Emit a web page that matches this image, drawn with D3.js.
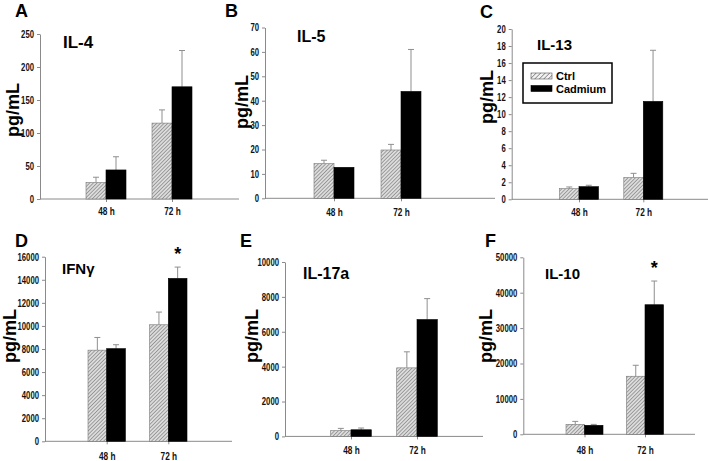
<!DOCTYPE html>
<html><head><meta charset="utf-8">
<script src="https://cdn.jsdelivr.net/npm/d3@7"></script>
<style>body{margin:0;background:#fff} svg{display:block}</style></head>
<body>
<svg id="c" width="708" height="461"></svg>
<script>
// ---------- data ----------
const categories = ["48 h", "72 h"];
const seriesNames = ["Ctrl", "Cadmium"];
const panelLetters = ["A", "B", "C", "D", "E", "F"];
const cytokines = ["IL-4", "IL-5", "IL-13", "IFNγ", "IL-17a", "IL-10"];
const yLabel = "pg/mL";
const ctrlMean = [[25, 115], [14.2, 19.8], [1.25, 2.55], [7900, 10100], [330, 3930], [2820, 16400]];
const ctrlSem  = [[8, 20], [1.4, 2.3], [0.2, 0.5], [1100, 1100], [130, 920], [830, 3100]];
const cadMean  = [[44, 170], [12.7, 43.8], [1.48, 11.5], [8030, 14120], [380, 6700], [2540, 36600]];
const cadSem   = [[20, 55], [0, 17.2], [0.17, 6.0], [340, 980], [100, 1200], [260, 6700]];
const yMax  = [250, 70, 20, 16000, 10000, 50000];
const yStep = [50, 10, 2, 2000, 2000, 10000];
const starred = [[false, false], [false, false], [false, false], [false, true], [false, false], [false, true]];

// ---------- layout ----------
const layout = [
  {ax: 40,    end: 239, y0: 199,   yT: 34,    c: [106, 172],     bw: 20,   letter: [15, 17],  title: [63, 48, 17],  yl: [19, 110], xlb: 215},
  {ax: 265,   end: 495, y0: 198.3, yT: 27.5,  c: [334, 401],     bw: 20,   letter: [225, 17], title: [297, 42, 16], yl: [248, 102], xlb: 216},
  {ax: 511.7, end: 708, y0: 199.3, yT: 29,    c: [579, 643.3],   bw: 19.5, letter: [480, 18], title: [537, 50, 15], yl: [493, 97],  xlb: 216},
  {ax: 45,    end: 232, y0: 441.3, yT: 256.7, c: [106.7, 168.3], bw: 18.7, letter: [15, 247], title: [62, 274, 15], yl: [16, 336],  xlb: 460},
  {ax: 285,   end: 483, y0: 436.4, yT: 262,   c: [351, 417],     bw: 20.3, letter: [240, 247],title: [303, 279, 16],yl: [258, 336], xlb: 454},
  {ax: 523.3, end: 695, y0: 434.3, yT: 257.3, c: [584.5, 645],   bw: 18.5, letter: [485, 247],title: [545, 279, 15],yl: [492, 336], xlb: 454}
];

const svg = d3.select("#c");
const sans = "'Liberation Sans',Arial,sans-serif";
const axisColor = "#8a8a8a";
const digitW = 4.3;

// hatch pattern
const defs = svg.append("defs");
const pat = defs.append("pattern").attr("id", "hatch").attr("patternUnits", "userSpaceOnUse")
  .attr("width", 2.6).attr("height", 2.6).attr("patternTransform", "rotate(45)");
pat.append("rect").attr("width", 2.6).attr("height", 2.6).attr("fill", "#dcdcdc");
pat.append("line").attr("x1", 0).attr("y1", 0).attr("x2", 0).attr("y2", 2.6)
  .attr("stroke", "#6a6a6a").attr("stroke-width", 1.1);
const pat2 = defs.append("pattern").attr("id", "hatchL").attr("patternUnits", "userSpaceOnUse")
  .attr("width", 3.2).attr("height", 3.2).attr("patternTransform", "rotate(45)");
pat2.append("rect").attr("width", 3.2).attr("height", 3.2).attr("fill", "#f2f2f2");
pat2.append("line").attr("x1", 0).attr("y1", 0).attr("x2", 0).attr("y2", 3.2)
  .attr("stroke", "#555").attr("stroke-width", 1.1);

const fills = ["url(#hatch)", "#000"];
const legendFills = ["url(#hatchL)", "#000"];

function narrowText(sel) {
  sel.attr("font-family", sans).attr("font-weight", "bold").attr("font-size", 10.5)
    .attr("fill", "#111").attr("lengthAdjust", "spacingAndGlyphs")
    .attr("textLength", function () { return this.textContent.length * digitW; });
}

layout.forEach((L, i) => {
  const g = svg.append("g");
  const y = d3.scaleLinear().domain([0, yMax[i]]).range([L.y0, L.yT]);
  const x = d3.scalePoint().domain(categories).range(L.c);
  const xs = d3.scaleBand().domain(seriesNames).range([-L.bw, L.bw]);

  // y axis
  const ya = g.append("g").attr("transform", `translate(${L.ax},0)`)
    .call(d3.axisLeft(y).tickValues(d3.range(0, yMax[i] + yStep[i] / 2, yStep[i]))
      .tickFormat(d3.format("d")).tickSize(3).tickPadding(3).tickSizeOuter(0));
  ya.select(".domain").attr("stroke", axisColor);
  ya.selectAll(".tick line").attr("stroke", axisColor);
  ya.selectAll(".tick text").call(narrowText);

  // x axis line
  g.append("line").attr("x1", L.ax).attr("x2", L.end).attr("y1", L.y0).attr("y2", L.y0)
    .attr("stroke", axisColor).attr("stroke-width", 1);
  const xa = g.append("g").attr("transform", `translate(0,${L.y0})`)
    .call(d3.axisBottom(x).tickSize(3).tickPadding(0).tickSizeOuter(0));
  xa.select(".domain").remove();
  xa.selectAll(".tick line").attr("stroke", axisColor);
  xa.selectAll(".tick text").call(narrowText).attr("textLength", 16.5).attr("dy", null)
    .attr("y", L.xlb - L.y0);

  const means = [ctrlMean[i], cadMean[i]];
  const sems = [ctrlSem[i], cadSem[i]];
  seriesNames.forEach((s, si) => {
    categories.forEach((cat, ci) => {
      const v = means[si][ci], e = sems[si][ci];
      const bx = x(cat) + xs(s);
      const cx = bx + xs.bandwidth() / 2;
      if (e > 0) {
        g.append("line").attr("x1", cx).attr("x2", cx).attr("y1", y(v)).attr("y2", y(v + e))
          .attr("stroke", "#8f8f8f").attr("stroke-width", 1);
        g.append("line").attr("x1", cx - 3).attr("x2", cx + 3).attr("y1", y(v + e)).attr("y2", y(v + e))
          .attr("stroke", "#8f8f8f").attr("stroke-width", 1);
      }
      g.append("rect").attr("x", bx).attr("y", y(v)).attr("width", xs.bandwidth())
        .attr("height", y(0) - y(v)).attr("fill", fills[si])
        .attr("stroke", si === 0 ? "#777" : "#000").attr("stroke-width", 0.6);
      if (starred[i][ci] && si === 1) {
        g.append("text").attr("x", cx).attr("y", y(v + e) - 7).attr("text-anchor", "middle")
          .attr("font-family", sans).attr("font-weight", "bold").attr("font-size", 18).text("*");
      }
    });
  });

  // letter
  g.append("text").attr("x", L.letter[0]).attr("y", L.letter[1]).attr("font-family", sans)
    .attr("font-weight", "bold").attr("font-size", 18).text(panelLetters[i]);
  // title
  g.append("text").attr("x", L.title[0]).attr("y", L.title[1]).attr("font-family", sans)
    .attr("font-weight", "bold").attr("font-size", L.title[2]).text(cytokines[i]);
  // y label
  g.append("text").attr("transform", `translate(${L.yl[0]},${L.yl[1]}) rotate(-90)`)
    .attr("text-anchor", "middle").attr("font-family", sans).attr("font-weight", "bold")
    .attr("font-size", 18).text(yLabel);
});

// legend in panel C
const lg = svg.append("g").attr("transform", "translate(523,63)");
lg.append("rect").attr("x", 0).attr("y", 0).attr("width", 89).attr("height", 40)
  .attr("fill", "#fff").attr("stroke", "#000").attr("stroke-width", 1.5);
const ly = d3.scalePoint().domain(seriesNames).range([13, 25.5]);
seriesNames.forEach((s, si) => {
  lg.append("rect").attr("x", 8).attr("y", ly(s) - 3).attr("width", 21).attr("height", 6)
    .attr("fill", legendFills[si]).attr("stroke", si === 0 ? "#555" : "#000").attr("stroke-width", 0.6);
  lg.append("text").attr("x", 33).attr("y", ly(s) + 4).attr("font-family", sans)
    .attr("font-weight", "bold").attr("font-size", 11).text(s);
});
</script>
</body></html>
